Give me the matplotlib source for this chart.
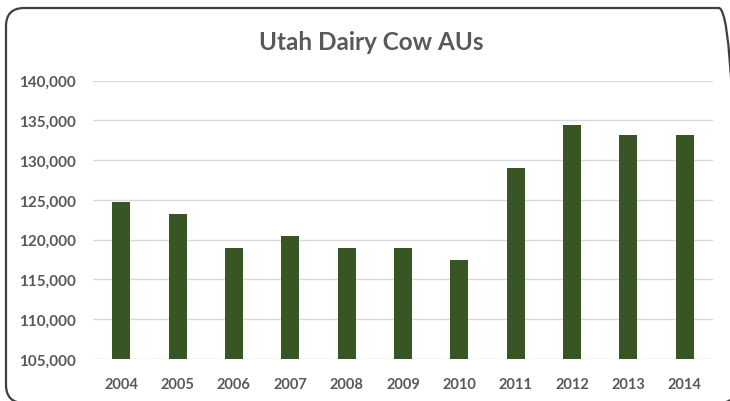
import matplotlib
matplotlib.use("Agg")
import matplotlib.pyplot as plt
from matplotlib.patches import FancyBboxPatch
from matplotlib.ticker import FuncFormatter

years = ["2004", "2005", "2006", "2007", "2008", "2009",
         "2010", "2011", "2012", "2013", "2014"]
cow_aus = [124700, 123200, 119000, 120500, 119000, 119000,
           117500, 129000, 134400, 133200, 133200]
y_ticks = [105000, 110000, 115000, 120000, 125000, 130000, 135000, 140000]

W, H = 730, 402
fig = plt.figure(figsize=(W / 100, H / 100), dpi=100)
fig.patch.set_facecolor("white")

# plot area in pixel coordinates
left, right, top, bottom = 93, 713, 81.7, 360
ax = fig.add_axes([left / W, 1 - bottom / H, (right - left) / W, (bottom - top) / H])

text_color = "#595959"
font = ["Lato", "DejaVu Sans"]

x = range(len(years))
ax.bar(x, cow_aus, width=0.32, color="#375623", zorder=3)
ax.set_xlim(-0.5, len(years) - 0.5)
ax.set_ylim(y_ticks[0], y_ticks[-1])
ax.set_yticks(y_ticks)
ax.yaxis.set_major_formatter(FuncFormatter(lambda v, p: f"{int(v):,}"))
ax.set_xticks(list(x))
ax.set_xticklabels(years)

ax.grid(axis="y", color="#d9d9d9", linewidth=1.0, zorder=0)
for s in ax.spines.values():
    s.set_visible(False)
ax.tick_params(axis="both", length=0, colors=text_color)
ax.tick_params(axis="y", pad=12.5, labelsize=11)
ax.tick_params(axis="x", pad=13, labelsize=10.5)
for lab in ax.get_xticklabels() + ax.get_yticklabels():
    lab.set_family(font)
    lab.set_fontweight("bold")

fig.text(371 / W, 1 - 42 / H, "Utah Dairy Cow AUs", ha="center", va="center",
         fontsize=17.5, color=text_color, family=font, fontweight="bold")

# rounded chart border
bx0, bx1, by_top, by_bot = 6, 737, 9, 404
border = FancyBboxPatch((bx0 / W, 1 - by_bot / H), (bx1 - bx0) / W, (by_bot - by_top) / H,
                        boxstyle="round,pad=0,rounding_size=0.025",
                        transform=fig.transFigure, fill=False,
                        edgecolor="#3f3f3f", linewidth=1.6,
                        mutation_aspect=W / H)
fig.patches.append(border)

fig.savefig("out.png", dpi=100)
